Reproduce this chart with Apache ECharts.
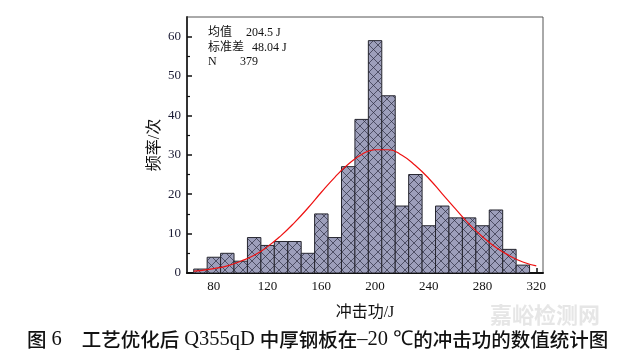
<!DOCTYPE html>
<html><head><meta charset="utf-8">
<script src="https://cdn.jsdelivr.net/npm/echarts@6/dist/echarts.min.js"></script>
<style>html,body{margin:0;padding:0;background:#fff}#c{width:635px;height:358px}</style>
</head><body><div id="c"></div>
<script>
// bin centres (J), bin width 10
const binCenters = [70,80,90,100,110,120,130,140,150,160,170,180,190,200,210,220,230,240,250,260,270,280,290,300,310];
const counts     = [1, 4, 5, 3, 9, 7, 8, 8, 5, 15, 9, 27, 39, 59, 45, 17, 25, 12, 17, 14, 14, 12, 16, 6, 2];
// fitted curve
const curveX = [65,70,80,90,100,110,120,130,140,150,160,170,180,190,200,210,220,230,240,250,260,270,280,290,300,310,320];
const curveY = [0.5,0.6,1.1,1.8,3.0,4.5,6.7,9.5,12.8,16.5,20.5,24.3,27.6,30.1,31.3,31.3,29.9,27.3,24.0,20.1,16.2,12.4,9.2,6.5,4.4,2.8,1.8];
const xTicks = [80,120,160,200,240,280,320];
const yTicks = [0,10,20,30,40,50,60];
const yMinor = [5,15,25,35,45,55];
const statsLabels = ['均值','标准差','N'];
const statsValues = ['204.5 J','48.04 J','379'];
const binWidth = 10;

const serif = "'Liberation Serif','Times New Roman','Noto Sans CJK SC',serif";

// cross-hatch pattern
const pc = document.createElement('canvas');
pc.width = 9; pc.height = 9;
const g = pc.getContext('2d');
g.fillStyle = '#9d9fbb'; g.fillRect(0,0,9,9);
g.strokeStyle = 'rgba(40,40,60,0.85)'; g.lineWidth = 0.8;
g.beginPath(); g.moveTo(0,0); g.lineTo(9,9); g.moveTo(9,0); g.lineTo(0,9); g.stroke();

const chart = echarts.init(document.getElementById('c'), null, {renderer:'canvas'});
const barData = binCenters.map((c,i)=>[c,counts[i]]);
const curveData = curveX.map((x,i)=>[x,curveY[i]]);

chart.setOption({
  animation:false,
  grid:{left:187,right:92,top:17,bottom:85,show:true,borderColor:'#555',borderWidth:1},
  xAxis:{type:'value',min:60,max:325,
    name:'冲击功/J',nameLocation:'middle',nameGap:32,
    nameTextStyle:{fontFamily:serif,fontSize:16,color:'#111'},
    axisLine:{show:true,lineStyle:{color:'#111',width:2}},
    axisTick:{show:true,inside:true,length:5,customValues:xTicks,lineStyle:{color:'#111',width:1.5}},
    axisLabel:{customValues:xTicks,fontFamily:serif,fontSize:13,color:'#111',margin:7},
    splitLine:{show:false}},
  yAxis:[{type:'value',min:0,max:65,
    name:'频率/次',nameLocation:'middle',nameGap:24,nameMoveOverlap:false,
    nameTextStyle:{fontFamily:serif,fontSize:16,color:'#111'},
    axisLine:{show:true,lineStyle:{color:'#333',width:2}},
    axisTick:{show:true,inside:true,length:5,customValues:yTicks,lineStyle:{color:'#111',width:1.5}},
    axisLabel:{customValues:yTicks,fontFamily:serif,fontSize:13,color:'#1a1a33',margin:6},
    splitLine:{show:false}},
   {type:'value',min:0,max:65,position:'left',
    axisLine:{show:false},
    axisTick:{show:true,inside:true,length:3,customValues:yMinor,lineStyle:{color:'#111',width:1.2}},
    axisLabel:{show:false},splitLine:{show:false}}],
  series:[
    {type:'custom',data:barData,clip:true,
     renderItem:function(params,api){
       const c = api.value(0), v = api.value(1);
       const p1 = api.coord([c-binWidth/2, v]);
       const p2 = api.coord([c+binWidth/2, 0]);
       return {type:'rect',shape:{x:p1[0],y:p1[1],width:p2[0]-p1[0],height:p2[1]-p1[1]},
         style:{fill:{image:pc,repeat:'repeat'},stroke:'#26262f',lineWidth:1}};
     },
     encode:{x:0,y:1},z:2},
    {type:'line',data:curveData,smooth:true,showSymbol:false,symbol:'none',
     lineStyle:{color:'#ee1111',width:1.2},z:3}
  ],
  graphic:[
    {type:'text',left:208,top:27,style:{text:statsLabels[0],font:"12px "+serif,fill:'#111'}},
    {type:'text',left:246,top:27,style:{text:statsValues[0],font:"12px "+serif,fill:'#111'}},
    {type:'text',left:208,top:42,style:{text:statsLabels[1],font:"12px "+serif,fill:'#111'}},
    {type:'text',left:252,top:42,style:{text:statsValues[1],font:"12px "+serif,fill:'#111'}},
    {type:'text',left:208,top:56,style:{text:statsLabels[2],font:"12px "+serif,fill:'#111'}},
    {type:'text',left:240,top:56,style:{text:statsValues[2],font:"12px "+serif,fill:'#111'}},
    {type:'text',left:490,top:304,z:-1,style:{text:'嘉峪检测网',font:"bold 22px 'Noto Sans CJK SC'",fill:'#e6e6e6'}},
    {type:'text',left:27,top:329,style:{
      text:'{c|图} {l|6}　{c|工艺优化后} {l|Q355qD} {c|中厚钢板在}{l|–20 ℃}{c|的冲击功的数值统计图}',
      rich:{
        c:{fontFamily:"'Noto Sans CJK SC'",fontSize:19.5,fontWeight:500,fill:'#111'},
        l:{fontFamily:"'Liberation Serif','Times New Roman',serif",fontSize:20.5,fill:'#111'}
      },
      font:"20px 'Liberation Serif'",fill:'#111'}}
  ]
});
</script></body></html>
